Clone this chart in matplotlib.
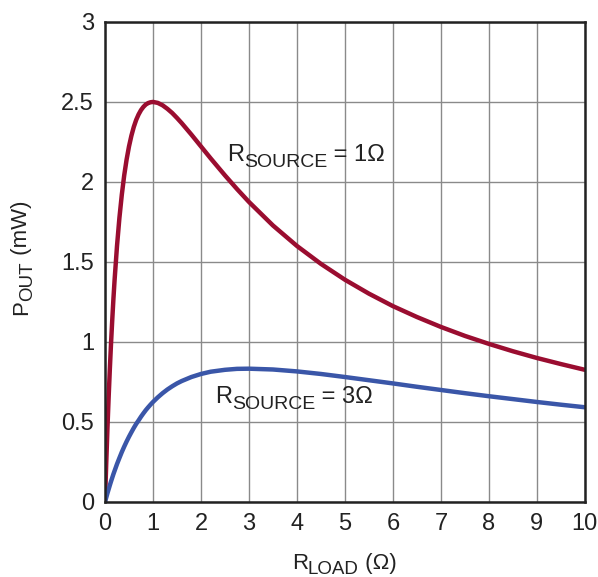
import matplotlib
matplotlib.use("Agg")
import matplotlib.pyplot as plt
from matplotlib.transforms import IdentityTransform

FAM = ['Liberation Sans', 'DejaVu Sans']
plt.rcParams['font.family'] = FAM

# data (R_LOAD in ohm, P_OUT in mW)
r_load = [0, 0.025, 0.05, 0.075, 0.1, 0.125, 0.15, 0.175, 0.2, 0.25, 0.3, 0.35, 0.4, 0.45,
          0.5, 0.55, 0.6, 0.65, 0.7, 0.75, 0.8, 0.85, 0.9, 0.95, 1.0, 1.1, 1.2, 1.3, 1.4,
          1.5, 1.6, 1.8, 2, 2.2, 2.5, 2.75, 3, 3.5, 4, 4.5, 5, 5.5, 6, 6.5, 7, 7.5, 8,
          8.5, 9, 9.5, 10]
p_rs1 = [0, 0.238, 0.454, 0.649, 0.826, 0.988, 1.133, 1.268, 1.389, 1.6, 1.775, 1.920,
         2.041, 2.140, 2.222, 2.289, 2.344, 2.388, 2.422, 2.449, 2.469, 2.484, 2.493, 2.498,
         2.5, 2.494, 2.479, 2.457, 2.431, 2.4, 2.367, 2.296, 2.222, 2.148, 2.041, 1.956,
         1.875, 1.728, 1.6, 1.488, 1.389, 1.302, 1.224, 1.156, 1.094, 1.038, 0.988, 0.942,
         0.9, 0.862, 0.826]
p_rs3 = [0, 0.027, 0.054, 0.079, 0.104, 0.128, 0.151, 0.174, 0.195, 0.237, 0.275, 0.312,
         0.346, 0.378, 0.408, 0.436, 0.463, 0.488, 0.51, 0.533, 0.554, 0.574, 0.592, 0.609,
         0.625, 0.654, 0.680, 0.703, 0.723, 0.741, 0.756, 0.781, 0.8, 0.814, 0.826, 0.832,
         0.833, 0.828, 0.816, 0.8, 0.781, 0.761, 0.741, 0.720, 0.7, 0.680, 0.661, 0.643,
         0.625, 0.608, 0.592]

x_ticks = list(range(0, 11))
y_ticks = [0, 0.5, 1, 1.5, 2, 2.5, 3]
y_labels = ["0", "0.5", "1", "1.5", "2", "2.5", "3"]

TXT = "#222222"

fig = plt.figure(figsize=(5.98, 5.77), dpi=100)
ax = fig.add_axes([0.1756, 0.130, 0.8024, 0.832])

ax.plot(r_load, p_rs1, color="#9a0d30", lw=3.2, solid_capstyle="round", solid_joinstyle="round")
ax.plot(r_load, p_rs3, color="#3a56a8", lw=3.2, solid_capstyle="round", solid_joinstyle="round")

ax.set_xlim(0, 10)
ax.set_ylim(0, 3)
ax.set_xticks(x_ticks)
ax.set_yticks(y_ticks)
ax.set_yticklabels(y_labels)
ax.grid(True, color="#8a8a8a", lw=1.0)
ax.set_axisbelow(True)
ax.tick_params(length=0, labelsize=17, pad=8, colors=TXT)
for s in ax.spines.values():
    s.set_linewidth(1.8)
    s.set_color(TXT)

fig.canvas.draw()
renderer = fig.canvas.get_renderer()


def rich(x0, y0, pieces, rotation=0, center=False):
    """pieces: (text, size, drop_px). x0,y0: baseline start in pixels (bottom-left origin)."""
    texts = []
    widths = []
    for s, size, drop in pieces:
        t = fig.text(0, 0, s, fontsize=size, color=TXT, transform=IdentityTransform(),
                     ha='left', va='baseline', rotation_mode='anchor')
        bb = t.get_window_extent(renderer)
        texts.append((t, drop))
        widths.append(bb.width)
    total = sum(widths)
    pos = -total / 2 if center else 0
    for (t, drop), w in zip(texts, widths):
        if rotation == 0:
            t.set_position((x0 + pos, y0 - drop))
        else:
            t.set_rotation(90)
            t.set_position((x0 + drop, y0 + pos))
        pos += w


H = 577
# x label
rich(344, H - 569, [("R", 16, 0), ("LOAD", 13.5, 5), (" (Ω)", 16, 0)], center=True)
# y label
rich(27, H - 258, [("P", 16, 0), ("OUT", 13.5, 5), (" (mW)", 16, 0)], rotation=90, center=True)
# annotations
rich(227, H - 161, [("R", 17, 0), ("SOURCE", 14, 6), (" = 1Ω", 17, 0)])
rich(215, H - 403, [("R", 17, 0), ("SOURCE", 14, 6), (" = 3Ω", 17, 0)])

fig.savefig("out.png", dpi=100)
